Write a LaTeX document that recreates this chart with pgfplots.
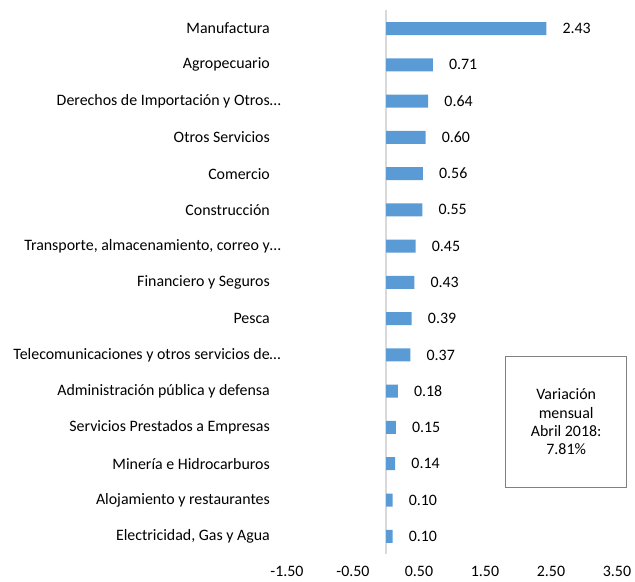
\documentclass[border=0pt]{standalone}
\usepackage{fontspec}
\setmainfont{Carlito}
\usepackage{pgfplots}
\pgfplotsset{compat=1.18}
\definecolor{barblue}{HTML}{5B9BD5}
\definecolor{boxgray}{HTML}{808080}
\definecolor{zeroline}{HTML}{D9D9D9}

\begin{document}
\fontsize{15.9}{19}\selectfont
\begin{tikzpicture}
\begin{axis}[
    scale only axis,
    width=330pt, height=544pt,
    xbar, bar width=13pt,
    xmin=-1.5, xmax=3.5,
    xtick={-1.5,-0.5,0.5,1.5,2.5,3.5},
    scaled x ticks=false,
    ymin=-0.5, ymax=14.5, y dir=reverse,
    ytick={0,...,14},
    yticklabels={
        Manufactura,
        Agropecuario,
        Derechos de Importación y Otros\rlap{…},
        Otros Servicios,
        Comercio,
        Construcción,
        {Transporte, almacenamiento, correo y\rlap{…}},
        Financiero y Seguros,
        Pesca,
        Telecomunicaciones y otros servicios de\rlap{…},
        Administración pública y defensa,
        Servicios Prestados a Empresas,
        Minería e Hidrocarburos,
        Alojamiento y restaurantes,
        {Electricidad, Gas y Agua}},
    axis line style={draw=none},
    major tick length=0pt,
    tick label style={font=\fontsize{15.9}{19}\selectfont},
    yticklabel style={inner sep=0pt, xshift=-17pt},
    xticklabel style={inner sep=0pt, yshift=-11.5pt},
    /pgf/number format/fixed,
    /pgf/number format/fixed zerofill,
    /pgf/number format/precision=2,
    /pgf/number format/assume math mode=true,
    extra x ticks={0},
    extra x tick labels={},
    extra x tick style={grid=major, major grid style={draw=zeroline, line width=1.4pt}},
    nodes near coords,
    nodes near coords style={anchor=west, inner sep=0pt, xshift=16pt,
        font=\fontsize{15.9}{19}\selectfont},
    clip=false,
]
\addplot[fill=barblue, draw=none] coordinates {
    (2.43,0) (0.71,1) (0.64,2) (0.60,3) (0.56,4)
    (0.55,5) (0.45,6) (0.43,7) (0.39,8) (0.37,9)
    (0.18,10) (0.15,11) (0.14,12) (0.10,13) (0.10,14)
};
% text box
\node[draw=boxgray, line width=1.2pt, minimum width=121pt, minimum height=131pt,
      align=center, font=\fontsize{15.9}{18.3}\selectfont]
    at (axis cs:2.73,10.85) {Variación\\mensual\\Abril 2018:\\7.81\%};
% page extent
\path (axis cs:-1.5,14.5) ++(-287pt,-27.3pt);
\path (axis cs:3.5,-0.5) ++(18pt,10.4pt);
\end{axis}
\end{tikzpicture}
\end{document}
